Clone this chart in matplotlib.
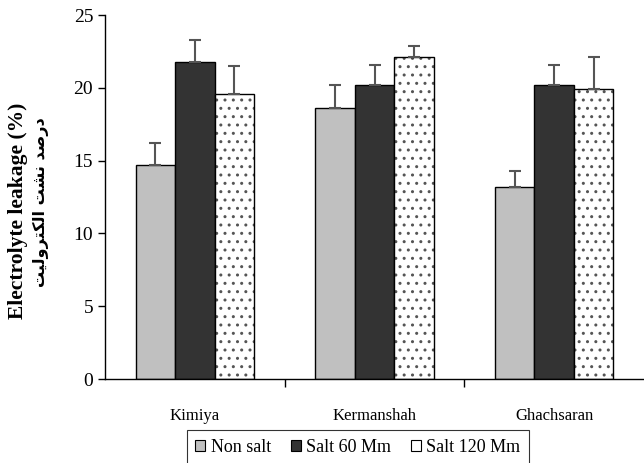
import numpy as np
import matplotlib
matplotlib.use("Agg")
import matplotlib.pyplot as plt
from matplotlib.patches import Patch

# values
regions = ["Kimiya", "Kermanshah", "Ghachsaran"]
treatments = ["Non salt", "Salt 60 Mm", "Salt 120 Mm"]
non_salt = [14.7, 18.6, 13.2]
salt_60 = [21.8, 20.2, 20.2]
salt_120 = [19.6, 22.1, 19.9]
err_non_salt = [1.5, 1.6, 1.1]
err_salt_60 = [1.5, 1.4, 1.4]
err_salt_120 = [1.9, 0.8, 2.2]

# Persian label, pre-shaped (presentation forms, visual order)
fa_chars = [0xFEA9, 0xFEAD, 0xFEBB, 0xFEAA, 0x20, 0xFEE7, 0xFEB8, 0xFE96, 0x20,
            0xFE8D, 0xFEDF, 0xFEDC, 0xFE98, 0xFEAE, 0xFEED, 0xFEDF, 0xFEF4, 0xFE96]
fa_label = "".join(chr(c) for c in reversed(fa_chars))

plt.rcParams["font.family"] = ["Liberation Serif", "DejaVu Sans"]
plt.rcParams["hatch.linewidth"] = 1.0

fig = plt.figure(figsize=(6.44, 4.63), dpi=100)
ax = fig.add_axes([105 / 644, 84 / 463, 539 / 644, 364 / 463])

x = np.arange(len(regions))
w = 0.22
series = [(non_salt, err_non_salt, "#c0c0c0", None),
          (salt_60, err_salt_60, "#333333", None),
          (salt_120, err_salt_120, "white", "..")]
for i, (vals, errs, col, hatch) in enumerate(series):
    pos = x + (i - 1) * w
    if hatch:
        # dots in grey, outline drawn separately in black
        ax.bar(pos, vals, width=w, color=col, edgecolor="#555555", linewidth=0,
               hatch=hatch, zorder=2)
        ax.bar(pos, vals, width=w, color="none", edgecolor="black", linewidth=1.0,
               zorder=2)
    else:
        ax.bar(pos, vals, width=w, color=col, edgecolor="black", linewidth=1.0,
               zorder=2)
    ax.errorbar(pos, vals, yerr=[np.zeros(len(vals)), errs], fmt="none",
                ecolor="#555555", elinewidth=1.5, capsize=4, capthick=1.5, zorder=3)

ax.set_xlim(-0.5, 2.5)
ax.set_ylim(0, 25)
ax.set_yticks([0, 5, 10, 15, 20, 25])
ax.tick_params(axis="y", labelsize=14, length=5, width=1, direction="out")
ax.set_xticks([0.5, 1.5])
ax.set_xticklabels([])
ax.set_xticks(x, minor=True)
ax.set_xticklabels(regions, minor=True)
ax.tick_params(axis="x", which="major", length=6, width=1, direction="out")
ax.tick_params(axis="x", which="minor", length=0, pad=21, labelsize=12)
for s in ["top", "right"]:
    ax.spines[s].set_visible(False)
ax.spines["left"].set_linewidth(1)
ax.spines["bottom"].set_linewidth(1)

fig.text(18 / 644, 1 - 211 / 463, "Electrolyte leakage (%)", rotation=90,
         ha="center", va="center", fontsize=15.5, fontweight="bold")
fig.text(41 / 644, 1 - 202 / 463, fa_label, rotation=90, ha="center", va="center",
         fontsize=11.5, fontweight="bold", family=["DejaVu Sans"])

handles = [Patch(facecolor="#c0c0c0", edgecolor="black", linewidth=0.8),
           Patch(facecolor="#333333", edgecolor="black", linewidth=0.8),
           Patch(facecolor="white", edgecolor="black", linewidth=0.8)]
leg = fig.legend(handles, treatments, loc="center", ncol=3,
                 bbox_to_anchor=(358 / 644, 16 / 463), frameon=True, fancybox=False,
                 edgecolor="black", fontsize=13, handlelength=0.55, handleheight=0.55,
                 handletextpad=0.3, columnspacing=1.1, borderpad=0.45)
leg.get_frame().set_linewidth(0.8)

fig.savefig("out.png", dpi=100)
